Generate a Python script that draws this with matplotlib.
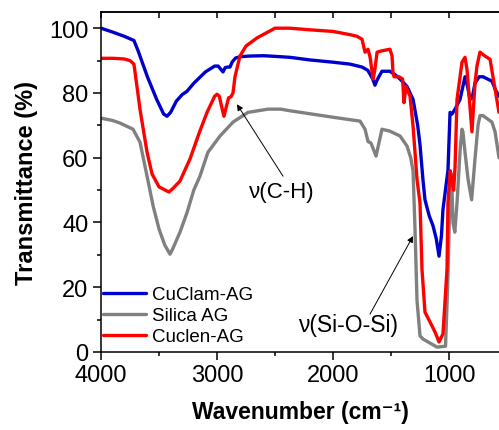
import matplotlib
matplotlib.use("Agg")
import matplotlib.pyplot as plt
from matplotlib.ticker import MultipleLocator

plt.rcParams['font.family'] = ['Liberation Sans', 'DejaVu Sans']

# ---- data ----
cuclam_wn = [4000, 3900, 3800, 3716, 3680, 3600, 3520, 3460, 3431, 3400, 3350, 3300, 3259,
             3200, 3100, 3020, 2990, 2960, 2948, 2930, 2910, 2888, 2870, 2840, 2800, 2716,
             2600, 2500, 2371, 2200, 2000, 1853, 1750, 1700, 1660, 1638, 1620, 1578, 1509,
             1460, 1422, 1362, 1310, 1270, 1250, 1224, 1207, 1170, 1138, 1110, 1086, 1065,
             1052, 1020, 1009, 991, 974, 948, 905, 862, 840, 819, 800, 776, 740, 707, 650,
             629, 600, 569]
cuclam_T = [100, 98.8, 97.5, 96.2, 93, 85, 78, 73.5, 72.8, 74, 77.5, 79.5, 80.5,
            83, 86.5, 88.3, 88.3, 87, 86.5, 87.8, 88, 88, 89.5, 90.8, 91.2, 91.4,
            91.5, 91.3, 91, 90.2, 89.5, 88.9, 88, 87, 84.5, 82.4, 84, 86.7, 86.7,
            85.5, 84.3, 82, 78, 70, 64, 53, 47, 42, 39, 35, 29.6, 36,
            44, 53, 56, 74, 73.5, 75, 78, 85, 82, 78, 78.5, 83, 85, 85, 84,
            83.6, 81, 79]

silica_wn = [4000, 3900, 3836, 3724, 3664, 3603, 3550, 3500, 3450, 3405, 3380, 3319, 3259,
             3200, 3147, 3078, 2974, 2862, 2733, 2560, 2450, 2371, 2000, 1767, 1724, 1698,
             1672, 1629, 1578, 1509, 1422, 1362, 1330, 1310, 1293, 1276, 1250, 1224, 1103,
             1030, 1012, 995, 978, 966, 950, 931, 905, 888, 880, 862, 836, 805, 776, 750,
             733, 707, 630, 603, 569]
silica_T = [72.2, 71.5, 70.7, 68.8, 64.8, 54.3, 45, 38, 33, 30.2, 32, 37, 43,
            50, 54.3, 61.7, 66.7, 71, 74, 75, 75, 74.5, 72.5, 71.3, 68.8, 65,
            64.5, 60.5, 68.8, 68.2, 66.7, 63.6, 60, 56, 38, 16, 5, 4, 1.5,
            1.8, 20, 44, 55, 40, 37, 46, 62, 68.8, 68, 61.7, 53.4, 47, 59.6, 70,
            73, 73, 71, 68, 60]

cuclen_wn = [4000, 3900, 3800, 3750, 3716, 3690, 3664, 3603, 3560, 3500, 3414, 3380, 3319,
             3233, 3150, 3086, 3020, 3000, 2980, 2955, 2940, 2925, 2900, 2880, 2862, 2845,
             2802, 2750, 2655, 2500, 2371, 2200, 2000, 1853, 1793, 1750, 1724, 1698, 1680,
             1655, 1640, 1620, 1580, 1509, 1491, 1483, 1474, 1431, 1400, 1388, 1371, 1336,
             1310, 1276, 1250, 1233, 1207, 1164, 1121, 1086, 1052, 1017, 1009, 990, 974,
             960, 948, 931, 888, 862, 845, 802, 776, 759, 733, 690, 646, 621, 569]
cuclen_T = [90.7, 90.7, 90.5, 90, 88.9, 82, 75, 61.7, 55, 51, 49.4, 50.5, 52.8,
            59.6, 68, 74, 79, 79.6, 79, 75, 72.8, 75, 78.5, 78.8, 80, 85,
            91.4, 94.5, 97, 100, 100, 99.5, 99, 98, 97.5, 96.6, 92.6, 93.5, 91,
            84.3, 87, 92.6, 93, 93.5, 91.4, 86.4, 85, 85, 84.3, 77, 82, 79,
            69.8, 53.4, 46, 25.6, 12.3, 9.3, 6.2, 3.1, 5.6, 25.6, 46, 56, 53,
            50, 57, 78, 89.5, 91, 87.3, 68, 83, 88.3, 92.6, 91.4, 90.4, 85, 74]

series = [
    ("CuClam-AG", cuclam_wn, cuclam_T, "#0000CC"),
    ("Silica AG", silica_wn, silica_T, "#808080"),
    ("Cuclen-AG", cuclen_wn, cuclen_T, "#FF0000"),
]

x_major = [4000, 3000, 2000, 1000]
y_major = [0, 20, 40, 60, 80, 100]

fig = plt.figure(figsize=(4.99, 4.31), dpi=100)
ax = fig.add_axes([101/499, 78/431, 1 - 101/499, 340/431])

for name, wn, T, c in series:
    ax.plot(wn, T, color=c, lw=2.4, label=name, solid_joinstyle='round',
            solid_capstyle='round')

ax.set_xlim(4000, 569)
ax.set_ylim(0, 105)
ax.set_xticks(x_major)
ax.set_yticks(y_major)
ax.xaxis.set_minor_locator(MultipleLocator(500))
ax.yaxis.set_minor_locator(MultipleLocator(10))
ax.tick_params(which='major', direction='out', length=5.5, width=1.1,
               labelsize=17, pad=3.5)
ax.tick_params(which='minor', direction='out', length=3, width=1.1)
ax.spines['right'].set_visible(False)
for s in ['left', 'bottom', 'top']:
    ax.spines[s].set_linewidth(1.1)

top = ax.secondary_xaxis('top')
top.set_xticks(x_major)
top.xaxis.set_minor_locator(MultipleLocator(500))
top.tick_params(which='both', direction='in', length=4, width=1.1, labeltop=False)
top.spines['top'].set_linewidth(1.1)

ax.set_xlabel("Wavenumber (cm\u207b\u00b9)", fontsize=16.5, fontweight='bold', labelpad=10)
ax.set_ylabel("Transmittance (%)", fontsize=17, fontweight='bold', labelpad=8)

ax.legend(loc='lower left', bbox_to_anchor=(0.005, 0.02), frameon=False,
          fontsize=13.5, handlelength=2.3, handletextpad=0.3, labelspacing=0.2,
          borderaxespad=0, borderpad=0)

arrow = dict(arrowstyle='-|>', color='black', lw=0.7, mutation_scale=9,
             shrinkA=0, shrinkB=0)
ax.annotate('', xy=(2828, 76.5), xytext=(2431, 54.3), arrowprops=arrow)
ax.text(2440, 49.5, "\u03bd(C-H)", fontsize=16, ha='center', va='center')
ax.annotate('', xy=(1310, 35.8), xytext=(1681, 11.7), arrowprops=arrow)
ax.text(1870, 8.6, "\u03bd(Si-O-Si)", fontsize=16.5, ha='center', va='center')

fig.savefig("out.png", dpi=100)
